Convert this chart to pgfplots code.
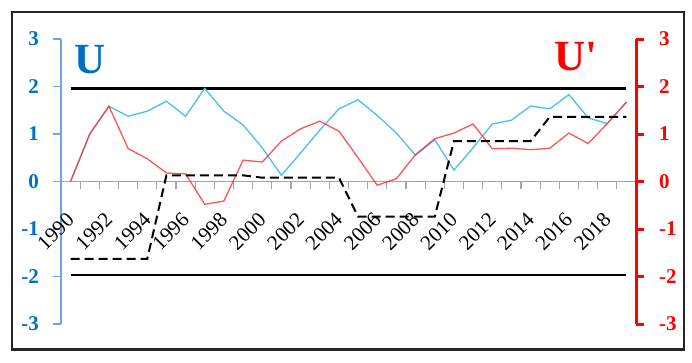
\documentclass[border=0pt]{standalone}
\usepackage{pgfplots}
\pgfplotsset{compat=1.18}
\usepackage{fontspec}
\setmainfont{Liberation Serif}

\definecolor{uText}{RGB}{0,112,192}
\definecolor{uAxis}{RGB}{110,165,225}
\definecolor{uLine}{RGB}{75,192,238}
\definecolor{vLine}{RGB}{255,55,55}
\definecolor{vAxis}{RGB}{255,0,0}
\definecolor{xAxis}{RGB}{165,165,165}

% Mann-Kendall progressive (U) and retrograde (U') statistics
\pgfplotstableread{
year  U      Ur
1990  0.00   0.00
1991  1.00   1.00
1992  1.585  1.585
1993  1.375  0.695
1994  1.48   0.48
1995  1.69   0.18
1996  1.375  0.16
1997  1.96  -0.48
1998  1.48  -0.41
1999  1.19   0.45
2000  0.71   0.41
2001  0.13   0.85
2002  0.60   1.11
2003  1.08   1.27
2004  1.53   1.06
2005  1.72   0.50
2006  1.39  -0.08
2007  1.02   0.06
2008  0.55   0.57
2009  0.88   0.90
2010  0.24   1.02
2011  0.71   1.21
2012  1.21   0.69
2013  1.29   0.70
2014  1.59   0.67
2015  1.53   0.70
2016  1.83   1.02
2017  1.34   0.80
2018  1.22   1.22
2019  1.67   1.67
}\mkdata

% Segment means between detected change points
\pgfplotstableread{
year  m
1990 -1.63
1991 -1.63
1992 -1.63
1993 -1.63
1994 -1.63
1995  0.13
1996  0.13
1997  0.13
1998  0.13
1999  0.13
2000  0.08
2001  0.08
2002  0.08
2003  0.08
2004  0.08
2005 -0.74
2006 -0.74
2007 -0.74
2008 -0.74
2009 -0.74
2010  0.85
2011  0.85
2012  0.85
2013  0.85
2014  0.85
2015  1.36
2016  1.36
2017  1.36
2018  1.36
2019  1.36
}\segdata

\pgfplotsset{
  common/.style={
    scale only axis,
    width=575pt, height=285pt,
    at={(61pt,38pt)}, anchor=south west,
    xmin=1989.5, xmax=2019.5,
    ymin=-3, ymax=3,
    ytick={-3,-2,-1,0,1,2,3},
    yticklabels={-3,-2,-1,0,1,2,3},
    tick align=outside,
    clip=false,
  }
}

\begin{document}
\begin{tikzpicture}[x=1pt,y=1pt]
\path (0,0) rectangle (692,362);
\draw[line width=2.4pt, black!85] (12,12.5) rectangle (684,350);

\begin{axis}[common,
  axis x line*=middle, axis y line*=left,
  x axis line style={xAxis, line width=1.4pt},
  y axis line style={uAxis, line width=1.3pt},
  xtick={1990,1992,...,2018},
  xticklabels={1990,1992,1994,1996,1998,2000,2002,2004,2006,2008,2010,2012,2014,2016,2018},
  minor xtick={1989.5,1990.5,...,2019.5},
  major x tick style={draw=none},
  minor x tick style={xAxis, line width=1.2pt},
  minor tick length=7pt,
  major tick length=8pt,
  y tick style={uAxis, line width=1.2pt},
  xticklabel style={rotate=45, anchor=east, font=\fontsize{21}{21}\selectfont, black, inner sep=0pt},
  xticklabel shift=27pt,
  yticklabel style={font=\fontsize{21}{21}\selectfont\bfseries, uText, anchor=east, inner sep=0pt},
  yticklabel shift=14pt,
]
  \addplot[black, line width=2.2pt, forget plot] coordinates {(1990,1.96) (2019,1.96)};
  \addplot[black, line width=2.2pt, forget plot] coordinates {(1990,-1.96) (2019,-1.96)};
  \addplot[uLine, line width=1.3pt] table[x=year, y=U] {\mkdata};
  \addplot[vLine, line width=1.3pt, draw opacity=0.85] table[x=year, y=Ur] {\mkdata};
  \addplot[black, line width=2pt, dash pattern=on 9pt off 5pt] table[x=year, y=m] {\segdata};
\end{axis}

\begin{axis}[common,
  axis x line=none, axis y line*=right,
  y axis line style={vAxis, line width=3pt},
  major tick length=8pt,
  y tick style={vAxis, line width=3pt},
  yticklabel style={font=\fontsize{21}{21}\selectfont\bfseries, vAxis, anchor=west, inner sep=0pt},
  yticklabel shift=15pt,
]
\end{axis}

\node[font=\fontsize{43}{43}\selectfont\bfseries, text=uText, inner sep=0pt] at (90,302) {U};
\node[font=\fontsize{43}{43}\selectfont\bfseries, text=vAxis, inner sep=0pt] at (576,305) {U\textquotesingle};
\end{tikzpicture}
\end{document}
